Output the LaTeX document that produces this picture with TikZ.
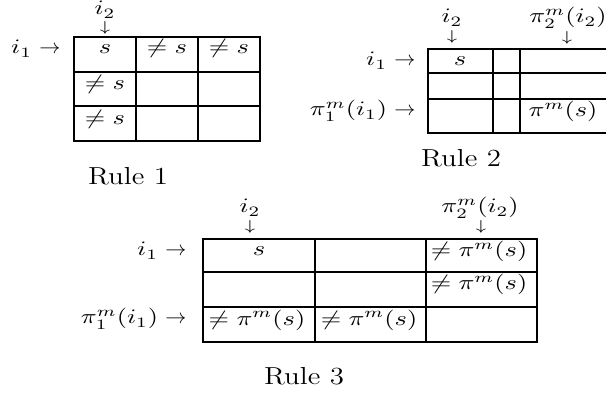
\documentclass[tikz,border=0pt]{standalone}
\usepackage{amsmath}
\usepackage{graphicx}
\newcommand{\vsq}[1]{\scalebox{1}[0.78]{#1}}
\newcommand{\capsq}[1]{\scalebox{1}[0.85]{\fontsize{11}{13}\selectfont #1}}
\newcommand{\rarr}{\mathrel{\scalebox{0.8}[1]{$\rightarrow$}}}
\begin{document}
\begin{tikzpicture}[x=0.38pt,y=-0.38pt,
  lbl/.style={inner sep=0pt, anchor=base},
  rlbl/.style={inner sep=0pt, anchor=base east},
  downarr/.style={inner sep=0pt, anchor=center},
  gridline/.style={line width=0.6pt},
  heavyline/.style={line width=0.9pt}]
\useasboundingbox (0,0) rectangle (606,394);
\begin{scope}
\clip (0,0) rectangle (606,394);
% ---------- Rule 1 ----------
\draw[gridline] (74,37) rectangle (260,141);
\draw[gridline] (136,37) -- (136,141) (198,37) -- (198,141);
\draw[gridline] (74,72) -- (260,72) (74,106) -- (260,106);
\node[lbl] (r1i2) at (105,15) {\vsq{$i_2$}};
\node[downarr] (r1d) at (105,27.5) {\vsq{$\scriptstyle\downarrow$}};
\node[rlbl] (r1i1) at (61,54) {\vsq{$i_1\rarr$}};
\node[lbl] (r1a) at (105,54) {\vsq{$s$}};
\node[lbl] (r1b) at (167,54) {\vsq{$\neq s$}};
\node[lbl] (r1c) at (229,54) {\vsq{$\neq s$}};
\node[lbl] (r1d2) at (105,90) {\vsq{$\neq s$}};
\node[lbl] (r1e) at (105,125) {\vsq{$\neq s$}};
\node[lbl] (r1t) at (128,185) {\capsq{Rule 1}};
% ---------- Rule 2 ----------
\draw[gridline] (620,49) -- (428,49) -- (428,133) -- (620,133);
\draw[gridline] (493,49) -- (493,133) (520,49) -- (520,133);
\draw[heavyline] (428,73) -- (620,73) (428,99) -- (620,99);
\node[lbl] (r2i2) at (452,23) {\vsq{$i_2$}};
\node[downarr] (r2d1) at (452,37) {\vsq{$\scriptstyle\downarrow$}};
\node[lbl] (r2p2) at (568,23) {\vsq{$\pi_2^m(i_2)$}};
\node[downarr] (r2d2) at (567,38) {\vsq{$\scriptstyle\downarrow$}};
\node[rlbl] (r2i1) at (416,66) {\vsq{$i_1\rarr$}};
\node[rlbl] (r2p1) at (416,116) {\vsq{$\pi_1^m(i_1)\rarr$}};
\node[lbl] (r2a) at (460,66) {\vsq{$s$}};
\node[lbl] (r2b) at (563,117) {\vsq{$\pi^m(s)$}};
\node[lbl] (r2t) at (461,167) {\capsq{Rule 2}};
% ---------- Rule 3 ----------
\draw[gridline] (203,239) rectangle (537,342);
\draw[gridline] (315,239) -- (315,342) (426,239) -- (426,342);
\draw[gridline] (203,272) -- (537,272) (203,307) -- (537,307);
\node[lbl] (r3i2) at (250,213) {\vsq{$i_2$}};
\node[downarr] (r3d1) at (250,227) {\vsq{$\scriptstyle\downarrow$}};
\node[lbl] (r3p2) at (480,213) {\vsq{$\pi_2^m(i_2)$}};
\node[downarr] (r3d2) at (481,227) {\vsq{$\scriptstyle\downarrow$}};
\node[rlbl] (r3i1) at (187,256) {\vsq{$i_1\rarr$}};
\node[rlbl] (r3p1) at (187,324) {\vsq{$\pi_1^m(i_1)\rarr$}};
\node[lbl] (r3a) at (259,256) {\vsq{$s$}};
\node[lbl] (r3b) at (479,257) {\vsq{$\neq\pi^m(s)$}};
\node[lbl] (r3c) at (479,290) {\vsq{$\neq\pi^m(s)$}};
\node[lbl] (r3e) at (257,325) {\vsq{$\neq\pi^m(s)$}};
\node[lbl] (r3f) at (369,325) {\vsq{$\neq\pi^m(s)$}};
\node[lbl] (r3t) at (304,384) {\capsq{Rule 3}};
\end{scope}
\end{tikzpicture}
\end{document}
